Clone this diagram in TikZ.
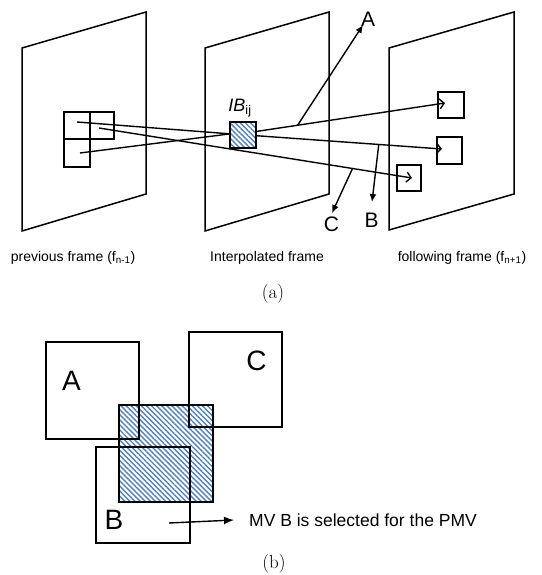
\documentclass[tikz,border=0pt]{standalone}
\usepackage{fontspec}
\setsansfont{Liberation Sans}
\usepackage{tikz}
\usetikzlibrary{arrows.meta,positioning,patterns.meta,calc}
\definecolor{hatchBlue}{HTML}{4F81BD}
\tikzset{
  plane/.style={draw=black, line width=1.5pt, line join=miter},
  blk/.style={draw=black, line width=1.5pt, inner sep=0pt, outer sep=0pt},
  hatched/.style={pattern={Lines[angle=-45, distance=3.6pt, line width=1.4pt]}, pattern color=hatchBlue},
  mvline/.style={line width=1.4pt},
  mvarr/.style={-{Straight Barb[length=4.5pt, width=10pt]}, line width=1.4pt},
  candarr/.style={-{Latex[length=8pt, width=7pt]}, line width=1.4pt},
  selarr/.style={-{Latex[length=10pt, width=8pt]}, line width=1.4pt},
  lbl/.style={font=\sffamily\fontsize{14}{16}\selectfont, inner sep=0pt},
  letter/.style={font=\sffamily\fontsize{21}{24}\selectfont, inner sep=0pt},
  bigletter/.style={font=\sffamily\fontsize{28}{32}\selectfont, inner sep=0pt},
  capt/.style={font=\fontsize{19}{22}\selectfont, inner sep=0pt},
}
\begin{document}
\begin{tikzpicture}[x=1pt, y=-1pt]
\useasboundingbox (0,0) rectangle (541,575);
% (a) the three frames
\draw[plane] (22,48) -- (146,12) -- (146,194) -- (22,231) -- cycle;
\draw[plane] (205,48) -- (329,12) -- (329,194) -- (205,231) -- cycle;
\draw[plane] (389,48) -- (514,12) -- (514,194) -- (389,230) -- cycle;

% blocks of the previous frame
\node[blk, minimum width=26pt, minimum height=27pt] (lb1) at (77,125.5) {};
\node[blk, minimum width=24pt, minimum height=27pt, right=0pt of lb1] (lb2) {};
\node[blk, minimum width=26pt, minimum height=28pt, below=0pt of lb1] (lb3) {};

% interpolated block
\node[blk, hatched, minimum width=26pt, minimum height=26pt] (ib) at (243,135) {};
\node[font=\sffamily\fontsize{18}{20}\selectfont, inner sep=0pt, above=5pt of ib, xshift=-3pt] (ibl) {\textit{IB}\textsubscript{ij}};

% blocks of the following frame
\node[blk, minimum width=26pt, minimum height=26pt] (rb1) at (451,105) {};
\node[blk, minimum width=25pt, minimum height=27pt] (rb2) at (449.5,150.5) {};
\node[blk, minimum width=24pt, minimum height=26pt] (rb3) at (409,178) {};

% motion vectors
\coordinate (p1) at (77,122);
\coordinate (p2) at (99,128);
\coordinate (p3) at (80,153);
\coordinate (t1) at (445,103);
\coordinate (t2) at (442,149);
\coordinate (t3) at (412,178);
\draw[mvline] (p1) -- (ib.175);
\draw[mvline] (p3) -- (ib.175);
\draw[mvarr] (p2) -- (t3) coordinate[pos=0.81] (cS);
\draw[mvarr] (ib.15) -- (t1) coordinate[pos=0.22] (aS);
\draw[mvarr] (ib.-3) -- (t2) coordinate[pos=0.66] (bS);

% candidates A, B, C
\coordinate (aT) at (363,25);
\coordinate (bT) at (372,202);
\coordinate (cT) at (332,213);
\draw[candarr] (aS) -- (aT);
\draw[candarr] (bS) -- (bT);
\draw[candarr] (cS) -- (cT);
\node[letter] (lA) at (368,19) {A};
\node[letter] (lB) at (371.5,220.5) {B};
\node[letter] (lC) at (331.5,224) {C};

\node[lbl] (capP) at (73,258) {previous frame (f\textsubscript{n-1})};
\node[lbl] (capI) at (267,258) {Interpolated frame};
\node[lbl] (capF) at (462,258) {following frame (f\textsubscript{n+1})};
\node[capt] (capa) at (273,294) {(a)};

% (b) overlapping blocks
\node[blk, hatched, line width=2.6pt, minimum width=94pt, minimum height=97pt] (pmv) at (166,453.5) {};
\node[blk, minimum width=93pt, minimum height=97pt] (mvA) at (92.5,390.5) {};
\node[blk, minimum width=93pt, minimum height=95pt] (mvC) at (235.5,379.5) {};
\node[blk, minimum width=94pt, minimum height=96pt] (mvB) at (143,495) {};
\node[bigletter] (lbA) at (71.5,380.5) {A};
\node[bigletter] (lbC) at (256.5,361) {C};
\node[bigletter] (lbB) at (114,520) {B};

\coordinate (selS) at (169,523);
\node[lbl, font=\sffamily\fontsize{17.5}{20}\selectfont, anchor=west] (selTxt) at (249,520) {MV B is selected for the PMV};
\draw[selarr] (selS) -- ([xshift=-15pt]selTxt.west);

\node[capt] (capb) at (274,564) {(b)};
\end{tikzpicture}
\end{document}
